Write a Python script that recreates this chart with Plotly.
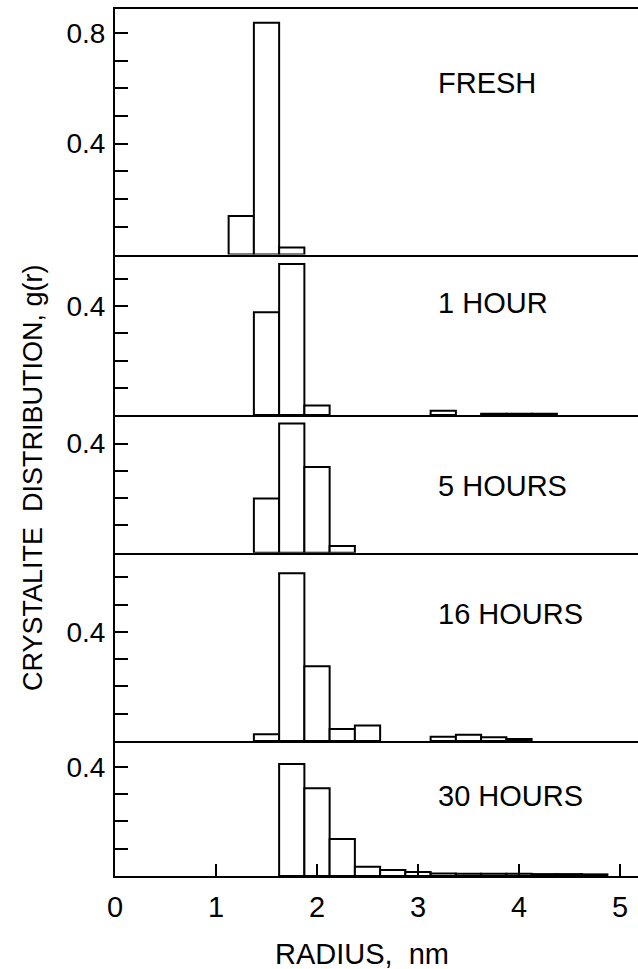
import plotly.graph_objects as go

# ---- data (bin centres in nm, bin width 0.25 nm) ----
fresh_r = [1.25, 1.5, 1.75]
fresh_g = [0.139, 0.836, 0.025]

h1_r = [1.5, 1.75, 2.0, 3.25, 3.75, 4.0, 4.25]
h1_g = [0.378, 0.555, 0.035, 0.016, 0.005, 0.005, 0.005]

h5_r = [1.5, 1.75, 2.0, 2.25]
h5_g = [0.199, 0.474, 0.314, 0.025]

h16_r = [1.5, 1.75, 2.0, 2.25, 2.5, 3.25, 3.5, 3.75, 4.0]
h16_g = [0.025, 0.615, 0.274, 0.044, 0.057, 0.016, 0.023, 0.014, 0.007]

h30_r = [1.75, 2.0, 2.25, 2.5, 2.75, 3.0, 3.25, 3.5, 3.75, 4.0, 4.25, 4.5, 4.75]
h30_g = [0.41, 0.321, 0.135, 0.034, 0.022, 0.015, 0.009, 0.008, 0.008, 0.008, 0.007, 0.007, 0.006]

panel_labels = ["FRESH", "1 HOUR", "5 HOURS", "16 HOURS", "30 HOURS"]
x_ticks = [0, 1, 2, 3, 4, 5]
x_ticktext = ["0", "1", "2", "3", "4", "5"]

series = [(fresh_r, fresh_g), (h1_r, h1_g), (h5_r, h5_g), (h16_r, h16_g), (h30_r, h30_g)]
y_tops = [0.886, 0.59, 0.505, 0.69, 0.494]
label_y = [0.62, 0.41, 0.244, 0.466, 0.294]
label_x = 3.18

# layout geometry (pixels)
W, H = 638, 969
ML, MR, MT, MB = 115, 0, 9, 93
plot_h = H - MT - MB
bounds_px = [9, 254.5, 415, 552.7, 741, 876]
def py2paper(py):
    return (H - MB - py) / plot_h

FONT = "Liberation Sans, Arial, sans-serif"
x_range = [0, (W - ML - MR) / 101.0]

fig = go.Figure()
layout = dict(
    width=W, height=H,
    margin=dict(l=ML, r=MR, t=MT, b=MB, pad=0),
    paper_bgcolor="white", plot_bgcolor="white",
    showlegend=False,
    font=dict(family=FONT, color="black"),
    annotations=[],
)

for i, (r, g) in enumerate(series):
    n = i + 1
    xa = "x" if n == 1 else f"x{n}"
    ya = "y" if n == 1 else f"y{n}"
    fig.add_trace(go.Bar(
        x=r, y=g, width=0.25, xaxis=xa, yaxis=ya,
        marker=dict(color="white", line=dict(color="black", width=2)),
    ))
    dom = [py2paper(bounds_px[i + 1]), py2paper(bounds_px[i])]
    top = y_tops[i]
    tv = [round(0.1 * k, 1) for k in range(1, 10) if 0.1 * k < top]
    tt = [("0.4" if abs(v - 0.4) < 1e-9 else ("0.8" if abs(v - 0.8) < 1e-9 else "")) for v in tv]
    yax = dict(
        domain=dom, range=[0, top], anchor=xa,
        showline=True, linecolor="black", linewidth=2,
        ticks="inside", ticklen=13, tickwidth=2, tickcolor="black",
        tickvals=tv, ticktext=tt,
        tickfont=dict(size=28, family=FONT, color="black"),
        ticklabelstandoff=2,
        showgrid=False, zeroline=False, fixedrange=True,
    )
    bottom = (n == 5)
    xax = dict(
        domain=[0, 1], range=x_range, anchor=ya,
        showline=True, linecolor="black", linewidth=2,
        mirror=(n == 1),
        showgrid=False, zeroline=False, fixedrange=True,
    )
    if n != 1:
        xax["matches"] = "x"
    if bottom:
        xax.update(ticks="inside", ticklen=12, tickwidth=2, tickcolor="black",
                   tickvals=x_ticks, ticktext=x_ticktext,
                   tickfont=dict(size=29, family=FONT, color="black"),
                   ticklabelstandoff=4, showticklabels=True)
    else:
        xax.update(showticklabels=False, ticks="")
    layout["xaxis" if n == 1 else f"xaxis{n}"] = xax
    layout["yaxis" if n == 1 else f"yaxis{n}"] = yax
    layout["annotations"].append(dict(
        x=label_x, y=label_y[i], xref=xa, yref=ya,
        text=panel_labels[i], showarrow=False, xanchor="left", yanchor="middle",
        font=dict(size=29, family=FONT, color="black"),
    ))

layout["annotations"].append(dict(
    x=(362 - ML) / (W - ML - MR), y=py2paper(954), xref="paper", yref="paper",
    text="RADIUS,  nm", showarrow=False, xanchor="center", yanchor="middle",
    font=dict(size=29, family=FONT, color="black"),
))
layout["annotations"].append(dict(
    x=(33 - ML) / (W - ML - MR), y=py2paper(478), xref="paper", yref="paper",
    text="CRYSTALITE  DISTRIBUTION, g(r)", showarrow=False, textangle=-90,
    xanchor="center", yanchor="middle",
    font=dict(size=27, family=FONT, color="black"),
))

fig.update_layout(**layout)
fig.write_html("out.html")
